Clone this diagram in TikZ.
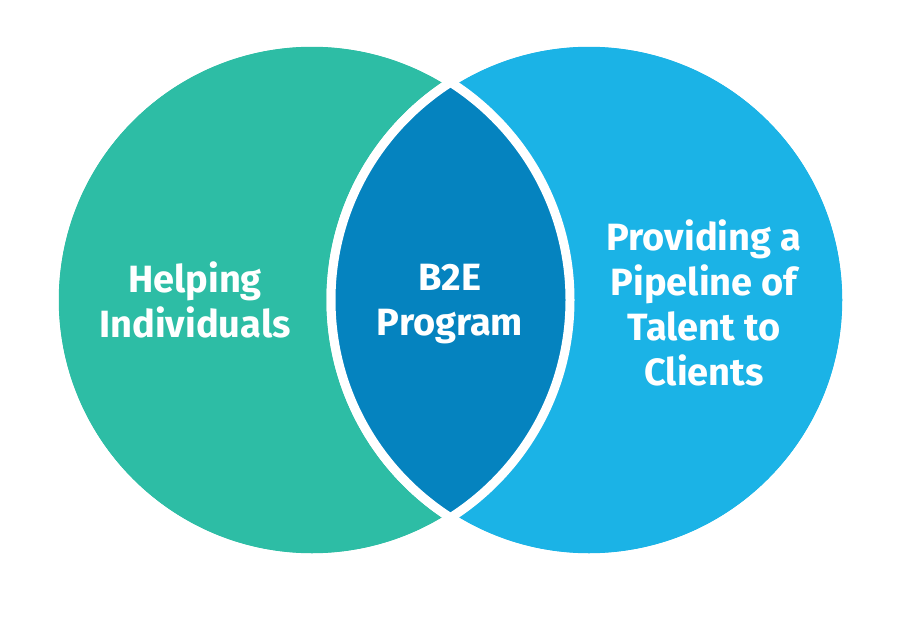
\documentclass[tikz,border=0pt]{standalone}
\usepackage{fontspec}
\setmainfont{Fira Sans}
\usepackage{tikz}
\usetikzlibrary{positioning}
\usepackage{xcolor}
\definecolor{tealset}{HTML}{2DBDA5}
\definecolor{skyset}{HTML}{1BB3E6}
\definecolor{lensblue}{HTML}{0583BF}

\begin{document}
\begin{tikzpicture}[
    x=1pt, y=-1pt,
    setcircle/.style={
      circle, draw=white, line width=9pt,
      minimum size=516pt, inner sep=0pt
    },
    label/.style={
      text=white, align=center,
      font=\fontsize{38}{45}\selectfont\bfseries
    }
  ]
    \useasboundingbox[fill=white] (0,0) rectangle (900,629);

    \node[setcircle, fill=tealset] (left) at (312,300) {};
    \node[setcircle, fill=skyset] (right) at (589,300) {};

    % overlap of the two sets
    \begin{scope}
      \clip (312,300) circle[radius=258pt];
      \fill[lensblue] (589,300) circle[radius=258pt];
    \end{scope}
    \draw[white, line width=9pt] (312,300) circle[radius=258pt];
    \draw[white, line width=9pt] (589,300) circle[radius=258pt];

    \node[label] (helping) at (195,300) {Helping\\Individuals};
    \node[label] (program) at (450,304) {B2E\\Program};
    \node[label] (pipeline) at (704,303) {Providing a\\Pipeline of\\Talent to\\Clients};
  \end{tikzpicture}
\end{document}
